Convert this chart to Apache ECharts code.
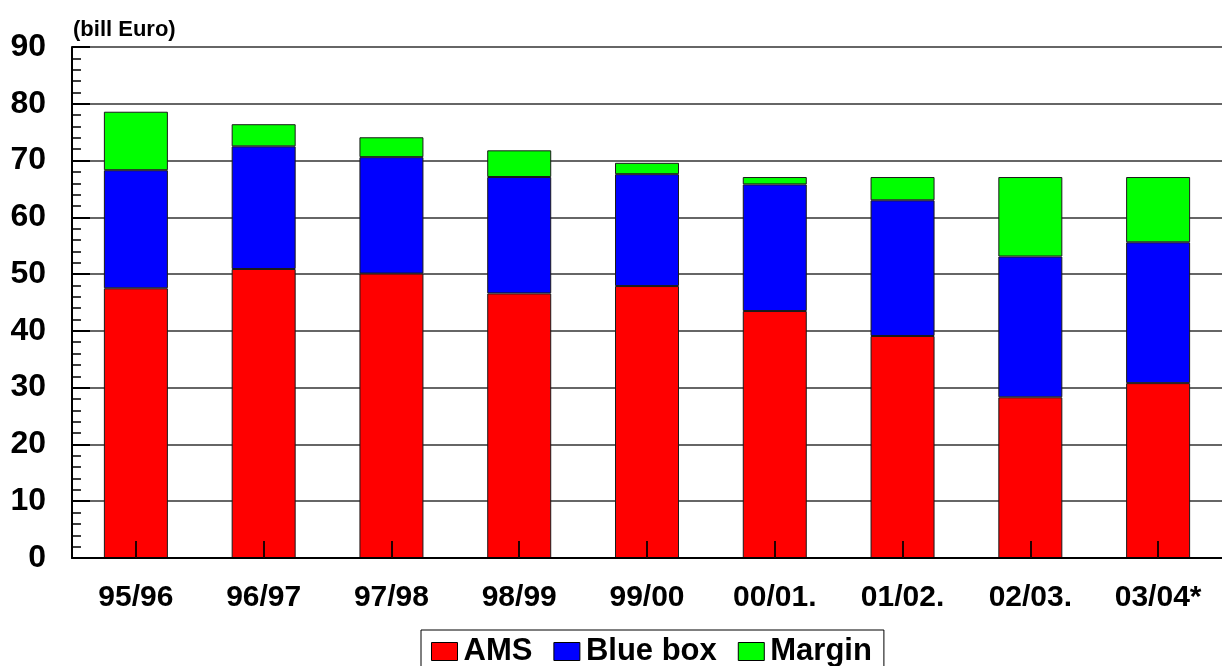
<!DOCTYPE html>
<html>
<head>
<meta charset="utf-8">
<script src="https://cdn.jsdelivr.net/npm/echarts@6/dist/echarts.min.js"></script>
<style>html,body{margin:0;padding:0;background:#fff;}#c{width:1222px;height:666px;}</style>
</head>
<body>
<div id="c"></div>
<script>
const categories = ['95/96','96/97','97/98','98/99','99/00','00/01.','01/02.','02/03.','03/04*'];
const ams     = [47.5, 50.9, 50.1, 46.6, 47.9, 43.5, 39.1, 28.3, 30.8];
const bluebox = [20.8, 21.6, 20.5, 20.5, 19.7, 22.3, 23.9, 24.8, 24.8];
const margin  = [10.3, 3.9, 3.5, 4.7, 2.0, 1.3, 4.1, 14.0, 11.5];
const yTicks = [0,10,20,30,40,50,60,70,80,90];

const FONT = '"Liberation Sans", Arial, Helvetica, sans-serif';
const chart = echarts.init(document.getElementById('c'), null, {renderer:'canvas'});
function bar(name, data, color){
  return {name, type:'bar', stack:'t', data, barWidth:64, z:2,
    itemStyle:{color, borderColor:'#1a1a1a', borderWidth:1}};
}
chart.setOption({
  animation:false,
  backgroundColor:'#fff',
  title:{text:'(bill Euro)', left:68, top:14,
    textStyle:{fontFamily:FONT, fontWeight:'bold', fontSize:22, color:'#000'}},
  grid:{left:72, right:-8, top:47, bottom:108},
  legend:{left:421, top:630, itemWidth:26, itemHeight:18, itemGap:21, icon:'rect',
    padding:[6,12,10,10], borderColor:'#000', borderWidth:1,
    itemStyle:{borderColor:'#000', borderWidth:1},
    textStyle:{fontFamily:FONT, fontWeight:'bold', fontSize:31, color:'#000', padding:[0,0,0,1]},
    data:['AMS','Blue box','Margin']},
  xAxis:{type:'category', data:categories, z:10,
    axisLine:{show:true, lineStyle:{color:'#000', width:2}},
    axisTick:{show:true, inside:true, alignWithLabel:true, interval:0, length:17, lineStyle:{color:'#200', width:2}},
    axisLabel:{margin:25, fontFamily:FONT, fontWeight:'bold', fontSize:30, color:'#000'}},
  yAxis:{type:'value', min:0, max:90, interval:10, z:0,
    axisLine:{show:true, lineStyle:{color:'#000', width:2}},
    axisTick:{show:true, inside:true, length:18, lineStyle:{color:'#000', width:2}},
    minorTick:{show:true, splitNumber:5, length:9, lineStyle:{color:'#000', width:1.5}},
    splitLine:{show:true, lineStyle:{color:'#333', width:1.5}},
    axisLabel:{margin:26, fontFamily:FONT, fontWeight:'bold', fontSize:32, color:'#000',
      formatter:v=> yTicks.includes(v) ? String(v) : ''}},
  series:[bar('AMS', ams, '#ff0000'), bar('Blue box', bluebox, '#0000ff'), bar('Margin', margin, '#00ff00')]
});
</script>
</body>
</html>
